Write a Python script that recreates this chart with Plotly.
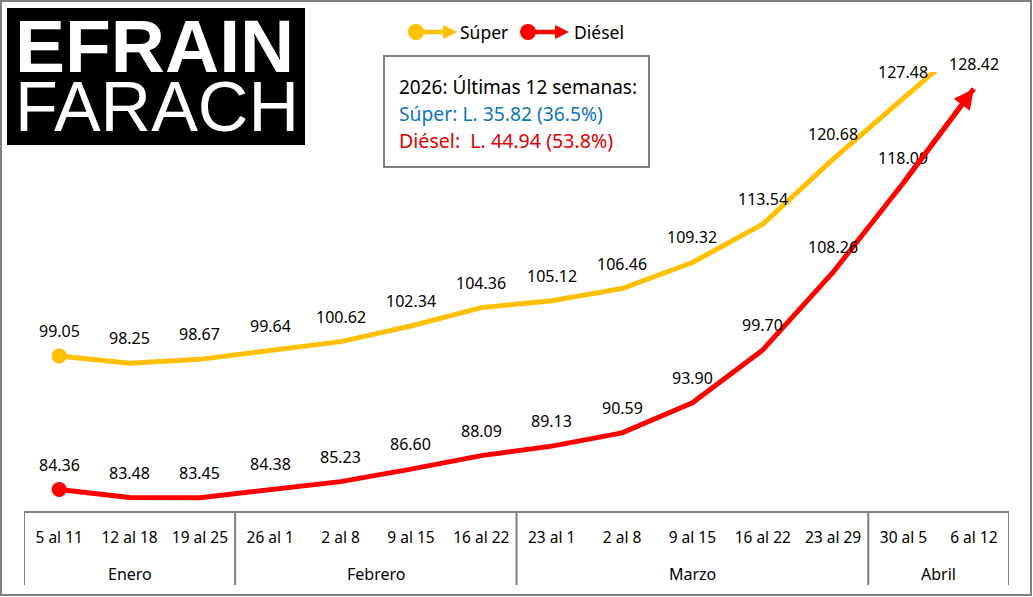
import plotly.graph_objects as go

month_names = ['Enero', 'Febrero', 'Marzo', 'Abril']
month_weeks = [3, 4, 5, 2]
weeks = ['5 al 11', '12 al 18', '19 al 25', '26 al 1', '2 al 8', '9 al 15', '16 al 22',
         '23 al 1', '2 al 8', '9 al 15', '16 al 22', '23 al 29', '30 al 5', '6 al 12']
# last super point runs off the top of the chart and has no label in the picture
super_vals = [99.05, 98.25, 98.67, 99.64, 100.62, 102.34, 104.36,
              105.12, 106.46, 109.32, 113.54, 120.68, 127.48, 134.07]
diesel_vals = [84.36, 83.48, 83.45, 84.38, 85.23, 86.60, 88.09,
               89.13, 90.59, 93.90, 99.70, 108.26, 118.09, 128.42]
super_labels = ['%.2f' % v for v in super_vals[:-1]]
diesel_labels = ['%.2f' % v for v in diesel_vals]

W, H = 1033, 597
L, R, T, B = 24, 1009, 72, 511
GRAY = '#7f7f7f'
FONT = 'Noto Sans'
x_idx = list(range(len(weeks)))


def px(x):
  return (x - L) / (R - L)


def py(y):
  return (B - y) / (B - T)


def add_series(fig, vals, labels, color, name):
  fig.add_trace(go.Scatter(x=x_idx, y=vals, name=name, mode='lines', line=dict(color=color, width=5)))
  # start dot
  fig.add_trace(go.Scatter(x=x_idx[:1], y=vals[:1], mode='markers',
                           marker=dict(color=color, size=15, line_width=0)))
  for i, lab in enumerate(labels):
    fig.add_annotation(x=x_idx[i], y=vals[i], text=lab, showarrow=False, yshift=25,
                       font=dict(family=FONT, size=16, color='black'))


fig = go.Figure()
add_series(fig, super_vals, super_labels, '#FFC000', 'Súper')
add_series(fig, diesel_vals, diesel_labels, '#FF0000', 'Diésel')

# arrow head on the diesel line (the super one is cut off by the top of the plot)
fig.add_annotation(x=x_idx[-1], y=diesel_vals[-1], ax=x_idx[-2], ay=diesel_vals[-2], axref='x', ayref='y',
                   text='', showarrow=True, arrowhead=2, arrowsize=0.8, arrowwidth=5, arrowcolor='#FF0000')


def box(**kw):
  return dict(xref='paper', yref='paper', **kw)


shapes = [
    # outer frame
    box(type='rect', x0=px(1), x1=px(1031), y0=py(1), y1=py(595), line=dict(color=GRAY, width=2)),
    # logo
    box(type='rect', x0=px(7), x1=px(305), y0=py(8), y1=py(145), fillcolor='black', line_width=0),
    # text box
    box(type='rect', x0=px(384), x1=px(649), y0=py(56), y1=py(167), line=dict(color=GRAY, width=2)),
]
# legend keys
for x0, color in [(416, '#FFC000'), (528, '#FF0000')]:
  shapes.append(box(type='line', x0=px(x0), x1=px(x0 + 30), y0=py(32), y1=py(32), line=dict(color=color, width=4.5)))
  shapes.append(box(type='circle', x0=px(x0 - 8), x1=px(x0 + 8), y0=py(24), y1=py(40), fillcolor=color, line_width=0))
  shapes.append(box(type='path', path='M %f %f L %f %f L %f %f Z' % (px(x0 + 27), py(25), px(x0 + 41), py(32), px(x0 + 27), py(39)),
                    fillcolor=color, line_width=0))

# month groups under the week labels
edges = [-0.5]
for name, count in zip(month_names, month_weeks):
  edges.append(edges[-1] + count)
  fig.add_annotation(x=edges[-1] - count / 2, xref='x', y=py(574), yref='paper', text=name, showarrow=False,
                     yanchor='middle', font=dict(family=FONT, size=16, color='black'))
for e in edges:
  shapes.append(dict(type='line', xref='x', yref='paper', x0=e, x1=e, y0=py(511), y1=py(585),
                     line=dict(color=GRAY, width=2)))
fig.update_layout(shapes=shapes)


def note(x, y, text, size, color='black', family=FONT):
  fig.add_annotation(xref='paper', yref='paper', x=px(x), y=py(y), text=text, showarrow=False,
                     xanchor='left', yanchor='middle',
                     font=dict(family=family, size=size, color=color))


note(13, 46, '<b>EFRAIN</b>', 75, 'white', 'Liberation Sans')
note(13, 107, 'FARACH', 70, 'white', 'Liberation Sans')
note(458, 32, 'Súper', 17.5)
note(572, 32, 'Diésel', 17.5)
note(397, 87, '2026: Últimas 12 semanas:', 19)
note(397, 113, 'Súper: L. 35.82 (36.5%)', 19.3, '#0F75BC')
note(397, 140, 'Diésel:\u00a0 L. 44.94 (53.8%)', 19.6, '#E00000')

fig.update_layout(
    width=W, height=H,
    margin=dict(l=L, r=W - R, t=T, b=H - B),
    paper_bgcolor='white', plot_bgcolor='white',
    showlegend=False,
    xaxis=dict(range=[-0.5, 13.5], tickmode='array', tickvals=x_idx, ticktext=weeks, showgrid=False,
               zeroline=False, showline=True, linecolor=GRAY, linewidth=2, ticks='', ticklabelstandoff=11,
               tickangle=0, automargin=False, tickfont=dict(family=FONT, size=15.5, color='black')),
    yaxis=dict(range=[82, 130.26], visible=False),
)
fig.write_html('out.html', config={'displayModeBar': False},
               post_script="document.body.style.margin='0';document.body.style.overflow='hidden';")
